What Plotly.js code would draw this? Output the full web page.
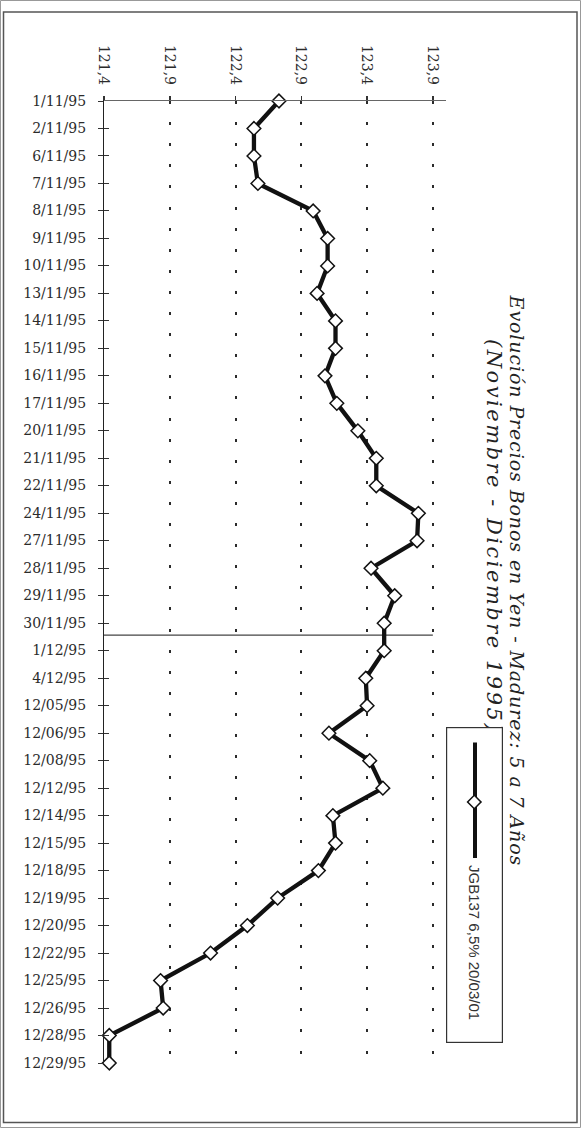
<!DOCTYPE html>
<html>
<head>
<meta charset="utf-8">
<script src="https://cdn.plot.ly/plotly-3.0.1.min.js"></script>
<style>
  html, body { margin: 0; padding: 0; overflow: hidden; background: #fff; width: 581px; height: 1128px; }
  /* the figure is laid out landscape and turned a quarter turn clockwise onto the page */
  #chart { position: absolute; left: 0; top: 0; width: 1128px; height: 581px;
           transform-origin: 0 0; transform: translate(581px, 0) rotate(90deg); }
  /* loose tracking on the heading lines */
  #chart .annotation[data-index="0"] text { letter-spacing: 0.9px; }
  #chart .annotation[data-index="1"] text { letter-spacing: 2.5px; }
</style>
</head>
<body>
<div id="chart"></div>
<script>
// Trading days, November - December 1995
const dates = [
  '1/11/95', '2/11/95', '6/11/95', '7/11/95', '8/11/95', '9/11/95', '10/11/95',
  '13/11/95', '14/11/95', '15/11/95', '16/11/95', '17/11/95', '20/11/95', '21/11/95',
  '22/11/95', '24/11/95', '27/11/95', '28/11/95', '29/11/95', '30/11/95',
  '1/12/95', '4/12/95', '12/05/95', '12/06/95', '12/08/95', '12/12/95', '12/14/95',
  '12/15/95', '12/18/95', '12/19/95', '12/20/95', '12/22/95', '12/25/95', '12/26/95',
  '12/28/95', '12/29/95'
];

// Price of JGB137 6,5% 20/03/01
const prices = [
  122.73, 122.54, 122.54, 122.57, 122.99, 123.10, 123.10,
  123.02, 123.16, 123.16, 123.08, 123.17, 123.33, 123.47,
  123.47, 123.79, 123.78, 123.43, 123.61, 123.53,
  123.53, 123.39, 123.40, 123.11, 123.42, 123.52, 123.14,
  123.16, 123.03, 122.72, 122.49, 122.21, 121.83, 121.85,
  121.44, 121.44
];

const seriesName = 'JGB137 6,5% 20/03/01';
const titleText = 'Evolución Precios Bonos en Yen - Madurez: 5 a 7 Años';
const subtitleText = '(Noviembre - Diciembre 1995)';
const valueMin = 121.4, valueMax = 124.0, valueStep = 0.5, valueTop = 123.9;

// landscape figure geometry (pixels before the quarter turn)
const W = 1128, H = 581;
const M = { l: 101, r: 65, t: 135, b: 104 };
const PW = W - M.l - M.r, PH = H - M.t - M.b;
const px = v => (v - M.l) / PW;        // figure pixel -> paper x
const py = v => (H - M.b - v) / PH;    // figure pixel -> paper y

const serif = 'DejaVu Serif, Liberation Serif, serif';
const sans = 'Liberation Sans, Arial, sans-serif';
const ink = '#111';

// month separator sits just after the last November session
const monthBreak = dates.indexOf('30/11/95') + 0.43;

const traces = [
  {
    type: 'scatter', mode: 'lines+markers', name: seriesName,
    x: dates, y: prices, xaxis: 'x', yaxis: 'y',
    line: { color: ink, width: 4.3 },
    marker: { symbol: 'diamond', size: 10.5, color: '#fff', line: { color: ink, width: 1.5 } },
    cliponaxis: false, showlegend: false, hoverinfo: 'skip'
  },
  // carrier for the inner half of the date tick marks
  { type: 'scatter', x: [], y: [], xaxis: 'x2', yaxis: 'y', showlegend: false, hoverinfo: 'skip' }
];

const layout = {
  width: W, height: H,
  margin: M,
  paper_bgcolor: '#fff', plot_bgcolor: '#fff',
  separators: ',.',
  showlegend: false,
  xaxis: {
    type: 'category', categoryorder: 'array', categoryarray: dates,
    range: [0, dates.length - 1],
    showline: true, linecolor: '#222', linewidth: 1.3,
    ticks: 'outside', ticklen: 5, tickwidth: 1, tickcolor: '#333',
    tickangle: -90, ticklabelstandoff: 6,
    tickfont: { family: serif, size: 14, color: '#2b2b2b' },
    showgrid: false, zeroline: false, fixedrange: true
  },
  xaxis2: {
    overlaying: 'x', anchor: 'y', side: 'bottom', type: 'linear',
    range: [0, dates.length - 1], tick0: 0, dtick: 1,
    ticks: 'inside', ticklen: 5, tickwidth: 1, tickcolor: '#333',
    showticklabels: false, showgrid: false, zeroline: false, showline: false, fixedrange: true
  },
  yaxis: {
    range: [valueMin, valueMax], tick0: valueMin, dtick: valueStep, tickformat: '.1f',
    showline: true, linecolor: '#666', linewidth: 1.2,
    ticks: 'outside', ticklen: 4, tickwidth: 1.5, tickcolor: '#333',
    ticklabelstandoff: 8,
    tickfont: { family: serif, size: 14, color: '#2b2b2b' },
    showgrid: true, gridcolor: '#2b2b2b', gridwidth: 2, griddash: '3px,18.1px',
    zeroline: false, fixedrange: true
  },
  shapes: [
    // page frame
    { type: 'rect', xref: 'paper', yref: 'paper', x0: px(0.5), x1: px(1127.5), y0: py(580.5), y1: py(0.5),
      line: { color: '#999', width: 1 }, layer: 'below' },
    { type: 'rect', xref: 'paper', yref: 'paper', x0: px(12), x1: px(1122.5), y0: py(577.5), y1: py(4),
      line: { color: '#555', width: 1.5 }, layer: 'below' },
    // November / December divider
    { type: 'line', xref: 'x', yref: 'y', x0: monthBreak, x1: monthBreak, y0: valueMin, y1: valueTop,
      line: { color: '#444', width: 1.2 }, layer: 'below' }
  ],
  annotations: [
    { text: titleText, xref: 'paper', yref: 'paper', x: px(580), y: py(64),
      xanchor: 'center', yanchor: 'middle', showarrow: false,
      font: { family: serif, size: 19, style: 'italic', color: '#222' } },
    { text: subtitleText, xref: 'paper', yref: 'paper', x: px(372), y: py(87),
      xanchor: 'left', yanchor: 'middle', showarrow: false,
      font: { family: serif, size: 21, style: 'italic', color: '#222' } },
    // legend: box, line sample, marker sample, label
    { text: ' ', xref: 'paper', yref: 'paper', x: px(885), y: py(106.5),
      xanchor: 'center', yanchor: 'middle', showarrow: false,
      width: 314, height: 55, borderpad: 0, bgcolor: '#fff', bordercolor: '#333', borderwidth: 1.2,
      font: { size: 1 } },
    { text: ' ', xref: 'paper', yref: 'paper', x: px(858), y: py(106),
      showarrow: true, ax: -116, ay: 0, arrowhead: 0, arrowwidth: 4, arrowcolor: ink,
      standoff: 0, startstandoff: 0, borderpad: 0, font: { size: 1 } },
    { text: ' ', xref: 'paper', yref: 'paper', x: px(802), y: py(106),
      xanchor: 'center', yanchor: 'middle', showarrow: false, textangle: 45,
      width: 8, height: 8, borderpad: 0, bgcolor: '#fff', bordercolor: ink, borderwidth: 1.5,
      font: { size: 1 } },
    { text: seriesName, xref: 'paper', yref: 'paper', x: px(863), y: py(106),
      xanchor: 'left', yanchor: 'middle', showarrow: false,
      font: { family: sans, size: 15, color: '#333' } }
  ]
};

Plotly.newPlot('chart', traces, layout, { staticPlot: true, displayModeBar: false });
</script>
</body>
</html>
